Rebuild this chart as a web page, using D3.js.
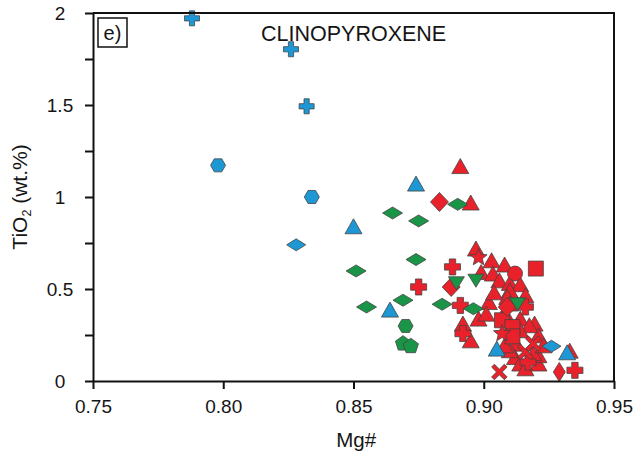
<!DOCTYPE html>
<html>
<head>
<meta charset="utf-8">
<script src="https://cdn.jsdelivr.net/npm/d3@7"></script>
<style>
  body { margin: 0; background: #fff; }
  svg text { font-family: "Liberation Sans", Arial, Helvetica, sans-serif; fill: #151515; }
</style>
</head>
<body>
<svg id="chart" width="634" height="459"></svg>
<script>
// ---- data: clinopyroxene Mg# vs TiO2 (wt.%) ----
const xTicks = [0.75, 0.80, 0.85, 0.90, 0.95];
const yTicks = [0, 0.25, 0.5, 0.75, 1, 1.25, 1.5, 1.75, 2];
const yLabelled = [0, 0.5, 1, 1.5, 2];

// blue group
const blueCross    = [[0.788, 1.971], [0.826, 1.803], [0.832, 1.493]];
const blueHexagon  = [[0.798, 1.172], [0.834, 1.000]];
const blueDiamond  = [[0.828, 0.740], [0.926, 0.189]];
const blueTriangle = [[0.850, 0.841], [0.874, 1.073], [0.864, 0.388], [0.905, 0.176], [0.932, 0.156]];

// green group
const greenDiamond = [[0.865, 0.913], [0.875, 0.870], [0.890, 0.960], [0.874, 0.660], [0.851, 0.598],
                      [0.869, 0.439], [0.855, 0.402], [0.884, 0.417], [0.896, 0.393]];
const greenHexagon = [[0.870, 0.299]];
const greenPentagon = [[0.869, 0.203], [0.872, 0.189]];
const greenTriangleDown = [[0.8895, 0.531], [0.897, 0.545], [0.913, 0.417]];

// red group
const redTriangle = [[0.891, 1.168], [0.895, 0.970], [0.897, 0.720], [0.903, 0.656], [0.908, 0.633],
                     [0.899, 0.592], [0.9035, 0.584], [0.906, 0.547], [0.910, 0.533], [0.914, 0.526],
                     [0.910, 0.493], [0.909, 0.457], [0.902, 0.429], [0.910, 0.421], [0.898, 0.339],
                     [0.892, 0.312], [0.895, 0.221], [0.914, 0.339], [0.9195, 0.312], [0.921, 0.248],
                     [0.9125, 0.203], [0.912, 0.130], [0.921, 0.095], [0.921, 0.140], [0.914, 0.095],
                     [0.933, 0.165], [0.910, 0.167], [0.919, 0.151], [0.916, 0.466], [0.9175, 0.303],
                     [0.914, 0.276], [0.908, 0.194], [0.923, 0.194], [0.904, 0.482], [0.901, 0.366],
                     [0.908, 0.373], [0.916, 0.069]];
const redDiamond  = [[0.883, 0.973], [0.8875, 0.511], [0.909, 0.402]];
const redThinDiamond = [[0.929, 0.049]];
const redCross    = [[0.888, 0.620], [0.875, 0.511], [0.916, 0.402], [0.891, 0.411], [0.892, 0.258],
                     [0.917, 0.103], [0.935, 0.058]];
const redStar     = [[0.898, 0.671], [0.907, 0.258]];
const redCircle   = [[0.912, 0.584]];
const redSquare   = [[0.920, 0.611], [0.907, 0.330], [0.911, 0.293], [0.911, 0.243]];
const redX        = [[0.916, 0.158], [0.919, 0.203], [0.906, 0.049]];

// ---- layout ----
const W = 634, H = 459;
const margin = { top: 13, right: 20, bottom: 78, left: 93 };
const x = d3.scaleLinear().domain([0.75, 0.95]).range([margin.left, W - margin.right]);
const y = d3.scaleLinear().domain([0, 2]).range([H - margin.bottom, margin.top]);

const svg = d3.select("#chart");
const COLORS = { red: "#e8212a", green: "#1a9547", blue: "#1d98d5" };

// ---- marker shapes (custom d3 symbol types, dimensions in px) ----
function polygon(pts) {
  return { draw(ctx) { ctx.moveTo(pts[0][0], pts[0][1]); for (let i = 1; i < pts.length; i++) ctx.lineTo(pts[i][0], pts[i][1]); ctx.closePath(); } };
}
const triUp = (w, h) => polygon([[0, -h / 2], [w / 2, h / 2], [-w / 2, h / 2]]);
const triDown = (w, h) => polygon([[0, h / 2], [w / 2, -h / 2], [-w / 2, -h / 2]]);
const diamond = (w, h) => polygon([[0, -h / 2], [w / 2, 0], [0, h / 2], [-w / 2, 0]]);
const square = s => polygon([[-s / 2, -s / 2], [s / 2, -s / 2], [s / 2, s / 2], [-s / 2, s / 2]]);
const hexagon = (w, h) => polygon([[-w / 2, 0], [-w / 4, -h / 2], [w / 4, -h / 2], [w / 2, 0], [w / 4, h / 2], [-w / 4, h / 2]]);
const pentagon = r => polygon(d3.range(5).map(i => {
  const a = -Math.PI / 2 + i * 2 * Math.PI / 5; return [r * Math.cos(a), r * Math.sin(a)];
}));
const star = (ro, ri) => polygon(d3.range(10).map(i => {
  const a = -Math.PI / 2 + i * Math.PI / 5, r = i % 2 ? ri : ro; return [r * Math.cos(a), r * Math.sin(a)];
}));
const cross = (L, a) => polygon([[-a, -L], [a, -L], [a, -a], [L, -a], [L, a], [a, a], [a, L], [-a, L], [-a, a], [-L, a], [-L, -a], [-a, -a]]);
const saltire = (L, a) => {
  const c = Math.SQRT1_2;
  const base = [[-a, -L], [a, -L], [a, -a], [L, -a], [L, a], [a, a], [a, L], [-a, L], [-a, a], [-L, a], [-L, -a], [-a, -a]];
  return polygon(base.map(([px, py]) => [c * (px - py), c * (px + py)]));
};
const circle = r => ({ draw(ctx) { ctx.moveTo(r, 0); ctx.arc(0, 0, r, 0, 2 * Math.PI); } });

// draw order: red first, green over it, blue on top
const series = [
  { data: redTriangle,   color: "red",   shape: triUp(17, 15) },
  { data: redSquare,     color: "red",   shape: square(15) },
  { data: redCircle,     color: "red",   shape: circle(7.5) },
  { data: redDiamond,    color: "red",   shape: diamond(18, 19) },
  { data: redThinDiamond, color: "red",  shape: diamond(12, 19) },
  { data: redCross,      color: "red",   shape: cross(8, 3.2) },
  { data: redStar,       color: "red",   shape: star(9, 4) },
  { data: redX,          color: "red",   shape: saltire(9, 2) },
  { data: greenDiamond,  color: "green", shape: diamond(20, 12) },
  { data: greenHexagon,  color: "green", shape: hexagon(15, 13) },
  { data: greenPentagon, color: "green", shape: pentagon(8) },
  { data: greenTriangleDown, color: "green", shape: triDown(16, 13) },
  { data: blueCross,     color: "blue",  shape: cross(7.5, 2.6) },
  { data: blueHexagon,   color: "blue",  shape: hexagon(15, 13) },
  { data: blueDiamond,   color: "blue",  shape: diamond(19, 12) },
  { data: blueTriangle,  color: "blue",  shape: triUp(17, 15) }
];

const marks = svg.append("g");
series.forEach(s => {
  const sym = d3.symbol().type(s.shape);
  marks.append("g")
    .selectAll("path")
    .data(s.data)
    .join("path")
    .attr("transform", d => `translate(${x(d[0])},${y(d[1])})`)
    .attr("d", sym)
    .attr("fill", COLORS[s.color])
    .attr("stroke", "#444")
    .attr("stroke-width", 0.8)
    .attr("stroke-linejoin", "round");
});

// ---- frame and axes ----
svg.append("path")
  .attr("d", `M${x(0.75)},${y(2)}H${x(0.95)}V${y(0)}`)
  .attr("fill", "none").attr("stroke", "#111").attr("stroke-width", 2);

const xAxis = svg.append("g")
  .attr("transform", `translate(0,${y(0)})`)
  .call(d3.axisBottom(x).tickValues(xTicks).tickSize(8).tickSizeOuter(0).tickFormat(d3.format(".2f")));
xAxis.selectAll("text").attr("y", 19).style("font-size", "19px");

const yAxis = svg.append("g")
  .attr("transform", `translate(${x(0.75)},0)`)
  .call(d3.axisLeft(y).tickValues(yTicks).tickSize(8).tickSizeOuter(0)
    .tickFormat(d => yLabelled.includes(d) ? d3.format("~g")(d) : ""));
yAxis.selectAll("text").attr("x", -33).attr("text-anchor", "middle").style("font-size", "19px");

svg.selectAll(".domain").attr("stroke", "#111").attr("stroke-width", 2);
svg.selectAll(".tick line").attr("stroke", "#111").attr("stroke-width", 2);
svg.selectAll(".tick text").attr("fill", "#151515").attr("font-family", null);

// ---- titles ----
svg.append("text")
  .attr("x", x(0.851)).attr("y", 447)
  .attr("text-anchor", "middle")
  .style("font-size", "20.5px")
  .text("Mg#");

const yTitle = svg.append("text")
  .attr("transform", `translate(27,${(y(0) + y(2)) / 2}) rotate(-90)`)
  .attr("text-anchor", "middle")
  .style("font-size", "21px");
yTitle.append("tspan").text("TiO");
yTitle.append("tspan").attr("dy", 4).style("font-size", "12.5px").text("2");
yTitle.append("tspan").attr("dy", -4).text(" (wt.%)");

svg.append("text")
  .attr("x", 261).attr("y", 41)
  .style("font-size", "21.5px")
  .text("CLINOPYROXENE");

// panel tag
svg.append("rect")
  .attr("x", 98).attr("y", 18).attr("width", 29).attr("height", 29)
  .attr("fill", "none").attr("stroke", "#111").attr("stroke-width", 1.5);
svg.append("text")
  .attr("x", 112.5).attr("y", 40)
  .attr("text-anchor", "middle")
  .style("font-size", "20px")
  .text("e)");
</script>
</body>
</html>
